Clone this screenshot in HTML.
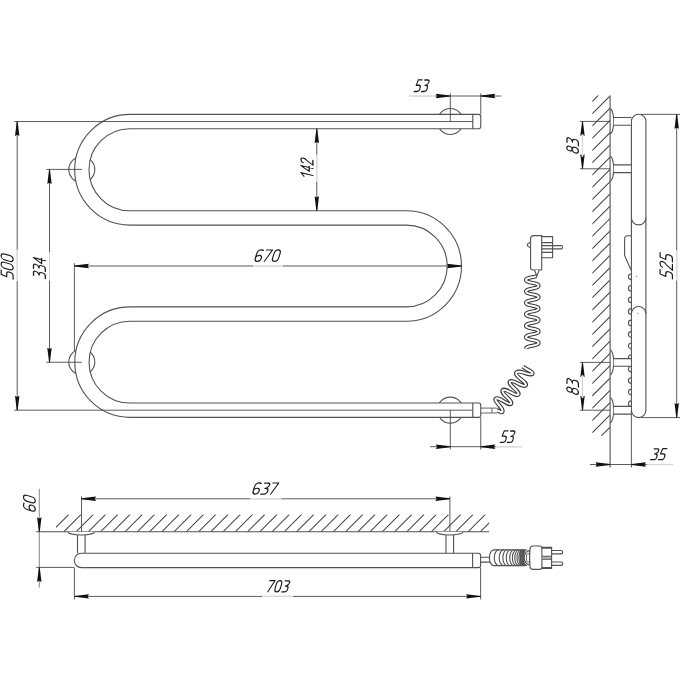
<!DOCTYPE html>
<html><head><meta charset="utf-8"><title>Towel warmer drawing</title>
<style>html,body{margin:0;padding:0;background:#fff;} body{width:680px;height:680px;overflow:hidden;font-family:"Liberation Sans",sans-serif;} svg{display:block;}</style>
</head><body>
<svg width="680" height="680" viewBox="0 0 680 680">
<rect width="680" height="680" fill="#fff"/>
<circle cx="81.8" cy="169.6" r="13.0" stroke="#525252" stroke-width="1.1" fill="none"/>
<circle cx="81.8" cy="362.0" r="13.0" stroke="#525252" stroke-width="1.1" fill="none"/>
<circle cx="450.3" cy="121.5" r="13.0" stroke="#525252" stroke-width="1.1" fill="none"/>
<circle cx="450.3" cy="410.1" r="13.0" stroke="#525252" stroke-width="1.1" fill="none"/>
<path d="M472.8,121.55 H130.0 A48.200,48.200 0 0 0 130.0,217.95 H406.3 A48.050,48.050 0 0 1 406.3,314.05 H130.0 A48.075,48.075 0 0 0 130.0,410.2 H472.8" stroke="#525252" stroke-width="15.4" fill="none"/>
<path d="M472.8,121.55 H130.0 A48.200,48.200 0 0 0 130.0,217.95 H406.3 A48.050,48.050 0 0 1 406.3,314.05 H130.0 A48.075,48.075 0 0 0 130.0,410.2 H472.8" stroke="#fff" stroke-width="13.200000000000001" fill="none"/>
<path d="M472.8,114.39999999999999 H478.6 Q480.75,114.39999999999999 480.75,116.49999999999999 V126.6 Q480.75,128.7 478.6,128.7 H472.8 Z" stroke="#525252" stroke-width="1.1" fill="#fff"/>
<path d="M472.8,403.05 H478.6 Q480.75,403.05 480.75,405.15000000000003 V415.24999999999994 Q480.75,417.34999999999997 478.6,417.34999999999997 H472.8 Z" stroke="#525252" stroke-width="1.1" fill="#fff"/>
<line x1="14.40" y1="121.55" x2="472.80" y2="121.55" stroke="#4a4a4a" stroke-width="0.9"/>
<line x1="14.40" y1="410.20" x2="472.80" y2="410.20" stroke="#4a4a4a" stroke-width="0.9"/>
<line x1="17.20" y1="121.55" x2="17.20" y2="410.20" stroke="#4a4a4a" stroke-width="0.9"/>
<path d="M17.65,121.55 L19.40,136.05 L17.20,134.85 L15.00,136.05 L16.75,121.55 Z" fill="#111" stroke="none"/>
<path d="M16.75,410.20 L15.00,395.70 L17.20,396.90 L19.40,395.70 L17.65,410.20 Z" fill="#111" stroke="none"/>
<line x1="17.20" y1="249.80" x2="17.20" y2="280.90" stroke="#fff" stroke-width="1.6"/>
<line x1="17.20" y1="249.80" x2="17.20" y2="280.90" stroke="#cfcfcf" stroke-width="0.9"/>
<g transform="matrix(0,-0.9739,1.0000,0,1.10,279.10)" fill="none" stroke="#1c1c1c" stroke-width="1.216" stroke-linecap="round" stroke-linejoin="round"><g transform="matrix(1,0,-0.3,1,3.5999999999999996,0)"><path transform="translate(0.00,0)" d="M5.8,0.1 H1.3 L0.5,5.6 H3.4 C5,5.6 6,6.6 6,8.2 V9.3 C6,11 4.9,12 3.3,12 H0"/><path transform="translate(8.60,0)" d="M3.2,0 C1.3,0 0,1.5 0,3.8 V8.2 C0,10.5 1.2,12 2.9,12 C4.8,12 6,10.5 6,8.2 V3.8 C6,1.5 4.9,0 3.2,0 Z"/><path transform="translate(17.20,0)" d="M3.2,0 C1.3,0 0,1.5 0,3.8 V8.2 C0,10.5 1.2,12 2.9,12 C4.8,12 6,10.5 6,8.2 V3.8 C6,1.5 4.9,0 3.2,0 Z"/></g></g>
<line x1="46.30" y1="169.40" x2="81.90" y2="169.40" stroke="#4a4a4a" stroke-width="0.9"/>
<line x1="46.30" y1="362.25" x2="81.90" y2="362.25" stroke="#4a4a4a" stroke-width="0.9"/>
<line x1="49.50" y1="169.40" x2="49.50" y2="362.25" stroke="#4a4a4a" stroke-width="0.9"/>
<path d="M49.95,169.40 L51.70,183.90 L49.50,182.70 L47.30,183.90 L49.05,169.40 Z" fill="#111" stroke="none"/>
<path d="M49.05,362.25 L47.30,347.75 L49.50,348.95 L51.70,347.75 L49.95,362.25 Z" fill="#111" stroke="none"/>
<line x1="49.50" y1="252.20" x2="49.50" y2="280.40" stroke="#fff" stroke-width="1.6"/>
<line x1="49.50" y1="252.20" x2="49.50" y2="280.40" stroke="#cfcfcf" stroke-width="0.9"/>
<g transform="matrix(0,-0.8284,1.0000,0,33.30,278.70)" fill="none" stroke="#1c1c1c" stroke-width="1.313" stroke-linecap="round" stroke-linejoin="round"><g transform="matrix(1,0,-0.3,1,3.5999999999999996,0)"><path transform="translate(0.00,0)" d="M0.4,0.2 H4 C5.3,0.2 6,1 6,2.2 C6,3.4 5.2,4.6 3.6,5.4 L2.4,5.8 H3.6 C5.1,5.8 6,6.8 6,8.3 V9.3 C6,11 4.9,12 3.3,12 H0"/><path transform="translate(8.60,0)" d="M0.4,0.2 H4 C5.3,0.2 6,1 6,2.2 C6,3.4 5.2,4.6 3.6,5.4 L2.4,5.8 H3.6 C5.1,5.8 6,6.8 6,8.3 V9.3 C6,11 4.9,12 3.3,12 H0"/><path transform="translate(17.20,0)" d="M4.6,12 V0 L0,8.3 H6.2"/></g></g>
<line x1="316.80" y1="128.70" x2="316.80" y2="210.80" stroke="#4a4a4a" stroke-width="0.9"/>
<path d="M317.25,128.70 L319.00,143.20 L316.80,142.00 L314.60,143.20 L316.35,128.70 Z" fill="#111" stroke="none"/>
<path d="M316.35,210.80 L314.60,196.30 L316.80,197.50 L319.00,196.30 L317.25,210.80 Z" fill="#111" stroke="none"/>
<line x1="316.80" y1="154.50" x2="316.80" y2="182.00" stroke="#fff" stroke-width="1.6"/>
<line x1="316.80" y1="154.50" x2="316.80" y2="182.00" stroke="#cfcfcf" stroke-width="0.9"/>
<g transform="matrix(0,-0.8060,1.0000,0,300.90,179.10)" fill="none" stroke="#1c1c1c" stroke-width="1.329" stroke-linecap="round" stroke-linejoin="round"><g transform="matrix(1,0,-0.3,1,3.5999999999999996,0)"><path transform="translate(0.00,0)" d="M0.8,3.0 L4.4,0 V12"/><path transform="translate(8.60,0)" d="M4.6,12 V0 L0,8.3 H6.2"/><path transform="translate(17.20,0)" d="M0.3,2.4 C0.6,0.9 1.7,0 3.2,0 C4.9,0 6,1 6,2.6 C6,3.9 5.3,4.8 4.2,5.8 L0,12 H6"/></g></g>
<line x1="74.40" y1="263.20" x2="74.40" y2="351.00" stroke="#4a4a4a" stroke-width="0.9"/>
<line x1="74.40" y1="266.00" x2="461.60" y2="266.00" stroke="#4a4a4a" stroke-width="0.9"/>
<path d="M74.40,265.55 L88.90,263.80 L87.70,266.00 L88.90,268.20 L74.40,266.45 Z" fill="#111" stroke="none"/>
<path d="M461.60,266.45 L447.10,268.20 L448.30,266.00 L447.10,263.80 L461.60,265.55 Z" fill="#111" stroke="none"/>
<line x1="253.00" y1="266.00" x2="283.00" y2="266.00" stroke="#fff" stroke-width="1.6"/>
<line x1="253.00" y1="266.00" x2="283.00" y2="266.00" stroke="#cfcfcf" stroke-width="0.9"/>
<g transform="translate(254.30,249.90) scale(1.0037,0.9583)" fill="none" stroke="#1c1c1c" stroke-width="1.223" stroke-linecap="round" stroke-linejoin="round"><g transform="matrix(1,0,-0.3,1,3.5999999999999996,0)"><path transform="translate(0.00,0)" d="M5.6,0.5 C5,0.2 4.2,0 3.4,0 C1.4,0 0,1.6 0,4.2 V8.4 C0,10.6 1.2,12 3,12 C4.8,12 6,10.7 6,8.8 C6,6.9 4.9,5.7 3.1,5.7 C1.5,5.7 0.3,6.6 0,8"/><path transform="translate(8.60,0)" d="M0,0.1 H6 L1.4,12"/><path transform="translate(17.20,0)" d="M3.2,0 C1.3,0 0,1.5 0,3.8 V8.2 C0,10.5 1.2,12 2.9,12 C4.8,12 6,10.5 6,8.2 V3.8 C6,1.5 4.9,0 3.2,0 Z"/></g></g>
<line x1="450.30" y1="93.30" x2="450.30" y2="121.55" stroke="#4a4a4a" stroke-width="0.9"/>
<line x1="480.75" y1="93.30" x2="480.75" y2="114.40" stroke="#4a4a4a" stroke-width="0.9"/>
<line x1="409.20" y1="96.00" x2="501.20" y2="96.00" stroke="#4a4a4a" stroke-width="0.9"/>
<path d="M450.30,96.45 L435.80,98.20 L437.00,96.00 L435.80,93.80 L450.30,95.55 Z" fill="#111" stroke="none"/>
<path d="M480.75,95.55 L495.25,93.80 L494.05,96.00 L495.25,98.20 L480.75,96.45 Z" fill="#111" stroke="none"/>
<line x1="409.20" y1="96.00" x2="435.00" y2="96.00" stroke="#fff" stroke-width="1.6"/>
<line x1="409.20" y1="96.00" x2="435.00" y2="96.00" stroke="#cfcfcf" stroke-width="0.9"/>
<g transform="translate(414.20,79.80) scale(0.8407,0.9750)" fill="none" stroke="#1c1c1c" stroke-width="1.322" stroke-linecap="round" stroke-linejoin="round"><g transform="matrix(1,0,-0.3,1,3.5999999999999996,0)"><path transform="translate(0.00,0)" d="M5.8,0.1 H1.3 L0.5,5.6 H3.4 C5,5.6 6,6.6 6,8.2 V9.3 C6,11 4.9,12 3.3,12 H0"/><path transform="translate(8.60,0)" d="M0.4,0.2 H4 C5.3,0.2 6,1 6,2.2 C6,3.4 5.2,4.6 3.6,5.4 L2.4,5.8 H3.6 C5.1,5.8 6,6.8 6,8.3 V9.3 C6,11 4.9,12 3.3,12 H0"/></g></g>
<line x1="450.30" y1="410.20" x2="450.30" y2="449.50" stroke="#4a4a4a" stroke-width="0.9"/>
<line x1="480.75" y1="417.35" x2="480.75" y2="449.50" stroke="#4a4a4a" stroke-width="0.9"/>
<line x1="430.00" y1="446.70" x2="521.60" y2="446.70" stroke="#4a4a4a" stroke-width="0.9"/>
<path d="M450.30,447.15 L435.80,448.90 L437.00,446.70 L435.80,444.50 L450.30,446.25 Z" fill="#111" stroke="none"/>
<path d="M480.75,446.25 L495.25,444.50 L494.05,446.70 L495.25,448.90 L480.75,447.15 Z" fill="#111" stroke="none"/>
<line x1="496.00" y1="446.70" x2="521.60" y2="446.70" stroke="#fff" stroke-width="1.6"/>
<line x1="496.00" y1="446.70" x2="521.60" y2="446.70" stroke="#cfcfcf" stroke-width="0.9"/>
<g transform="translate(500.20,430.80) scale(0.8297,0.9667)" fill="none" stroke="#1c1c1c" stroke-width="1.336" stroke-linecap="round" stroke-linejoin="round"><g transform="matrix(1,0,-0.3,1,3.5999999999999996,0)"><path transform="translate(0.00,0)" d="M5.8,0.1 H1.3 L0.5,5.6 H3.4 C5,5.6 6,6.6 6,8.2 V9.3 C6,11 4.9,12 3.3,12 H0"/><path transform="translate(8.60,0)" d="M0.4,0.2 H4 C5.3,0.2 6,1 6,2.2 C6,3.4 5.2,4.6 3.6,5.4 L2.4,5.8 H3.6 C5.1,5.8 6,6.8 6,8.3 V9.3 C6,11 4.9,12 3.3,12 H0"/></g></g>
<path d="M480.75,408.1 H497 M480.75,413 H497 M491.9,408.1 V413" stroke="#525252" stroke-width="0.9" fill="none"/>
<path d="M497,410.4 C498.83,410.43 502.83,414.47 502.50,410.50 C502.17,406.53 493.13,400.77 496.00,398.50 C498.87,396.23 508.87,406.43 511.10,403.70 C513.33,400.97 500.30,393.37 502.70,390.30 C505.10,387.23 515.90,397.37 518.30,394.50 C520.70,391.63 507.40,384.77 509.90,381.70 C512.40,378.63 523.70,388.30 525.80,385.30 C527.90,382.30 514.10,376.43 516.20,372.70 C518.30,368.97 529.87,376.10 532.10,374.10 C534.33,372.10 525.97,369.17 522.90,366.70" stroke="#3a3a3a" stroke-width="4.2" fill="none" stroke-linejoin="round" stroke-linecap="butt"/>
<path d="M497,410.4 C498.83,410.43 502.83,414.47 502.50,410.50 C502.17,406.53 493.13,400.77 496.00,398.50 C498.87,396.23 508.87,406.43 511.10,403.70 C513.33,400.97 500.30,393.37 502.70,390.30 C505.10,387.23 515.90,397.37 518.30,394.50 C520.70,391.63 507.40,384.77 509.90,381.70 C512.40,378.63 523.70,388.30 525.80,385.30 C527.90,382.30 514.10,376.43 516.20,372.70 C518.30,368.97 529.87,376.10 532.10,374.10 C534.33,372.10 525.97,369.17 522.90,366.70" stroke="#fff" stroke-width="2.0" fill="none" stroke-linejoin="round"/>
<path d="M536.54,276.10 L536.05,276.27 L535.53,276.43 L534.97,276.58 L534.39,276.72 L533.78,276.85 L533.16,276.97 L532.54,277.10 L531.91,277.22 L531.28,277.34 L530.67,277.47 L530.07,277.60 L529.49,277.74 L528.94,277.90 L528.42,278.06 L527.95,278.23 L527.51,278.42 L527.13,278.61 L526.80,278.82 L526.52,279.04 L526.30,279.27 L526.14,279.50 L526.04,279.74 L526.00,279.98 L526.03,280.22 L526.12,280.46 L526.27,280.70 L526.48,280.93 L526.75,281.15 L527.07,281.36 L527.45,281.55 L527.88,281.74 L528.35,281.92 L528.86,282.08 L529.40,282.23 L529.98,282.38 L530.57,282.51 L531.19,282.64 L531.81,282.76 L532.44,282.88 L533.07,283.01 L533.69,283.13 L534.30,283.26 L534.88,283.40 L535.44,283.55 L535.97,283.71 L536.47,283.87 L536.92,284.05 L537.32,284.25 L537.68,284.45 L537.98,284.67 L538.22,284.89 L538.41,285.12 L538.53,285.36 L538.59,285.60 L538.59,285.84 L538.53,286.08 L538.40,286.32 L538.21,286.55 L537.97,286.77 L537.66,286.99 L537.31,287.19 L536.90,287.38 L536.45,287.56 L535.95,287.73 L535.42,287.89 L534.86,288.03 L534.27,288.17 L533.66,288.30 L533.04,288.43 L532.41,288.55 L531.78,288.67 L531.16,288.80 L530.55,288.93 L529.95,289.06 L529.38,289.20 L528.83,289.36 L528.33,289.52 L527.86,289.70 L527.43,289.88 L527.06,290.08 L526.74,290.29 L526.47,290.51 L526.26,290.74 L526.11,290.98 L526.02,291.22 L526.00,291.46 L526.04,291.70 L526.14,291.94 L526.30,292.17 L526.53,292.40 L526.81,292.62 L527.14,292.83 L527.53,293.02 L527.97,293.21 L528.45,293.38 L528.96,293.54 L529.51,293.69 L530.09,293.83 L530.69,293.97 L531.31,294.09 L531.93,294.22 L532.56,294.34 L533.19,294.46 L533.81,294.59 L534.41,294.72 L535.00,294.86 L535.55,295.01 L536.07,295.17 L536.56,295.34 L537.00,295.52 L537.40,295.72 L537.74,295.92 L538.03,296.14 L538.26,296.36 L538.44,296.60 L538.55,296.84 L538.60,297.08 L538.58,297.32 L538.51,297.56 L538.37,297.80 L538.17,298.03 L537.91,298.25 L537.60,298.46 L537.23,298.66 L536.81,298.85 L536.35,299.03 L535.85,299.19 L535.31,299.35 L534.74,299.49 L534.15,299.63 L533.54,299.76 L532.92,299.88 L532.29,300.00 L531.66,300.13 L531.04,300.25 L530.43,300.38 L529.83,300.52 L529.27,300.66 L528.73,300.82 L528.23,300.98 L527.77,301.16 L527.36,301.35 L526.99,301.55 L526.68,301.77 L526.42,301.99 L526.23,302.22 L526.09,302.45 L526.01,302.70 L526.00,302.94 L526.05,303.18 L526.17,303.42 L526.34,303.65 L526.58,303.87 L526.87,304.09 L527.22,304.30 L527.61,304.49 L528.06,304.67 L528.55,304.84 L529.07,305.00 L529.63,305.15 L530.21,305.29 L530.81,305.42 L531.43,305.55 L532.06,305.67 L532.69,305.79 L533.32,305.92 L533.93,306.04 L534.53,306.18 L535.11,306.32 L535.66,306.47 L536.17,306.63 L536.65,306.80 L537.08,306.99 L537.47,307.19 L537.80,307.39 L538.08,307.61 L538.30,307.84 L538.46,308.07 L538.56,308.31 L538.60,308.56 L538.57,308.80 L538.48,309.04 L538.33,309.27 L538.12,309.50 L537.85,309.72 L537.53,309.93 L537.15,310.13 L536.72,310.32 L536.25,310.49 L535.75,310.65 L535.20,310.81 L534.63,310.95 L534.03,311.08 L533.42,311.21 L532.79,311.34 L532.16,311.46 L531.53,311.58 L530.91,311.71 L530.31,311.84 L529.72,311.98 L529.16,312.12 L528.63,312.28 L528.14,312.45 L527.68,312.63 L527.28,312.82 L526.92,313.03 L526.62,313.24 L526.38,313.46 L526.19,313.69 L526.07,313.93 L526.01,314.17 L526.01,314.41 L526.07,314.66 L526.20,314.89 L526.39,315.12 L526.63,315.35 L526.94,315.56 L527.29,315.77 L527.70,315.96 L528.15,316.14 L528.65,316.31 L529.18,316.46 L529.74,316.61 L530.33,316.75 L530.93,316.88 L531.56,317.00 L532.18,317.13 L532.81,317.25 L533.44,317.37 L534.05,317.50 L534.65,317.63 L535.22,317.78 L535.76,317.93 L536.27,318.09 L536.74,318.27 L537.16,318.46 L537.54,318.66 L537.86,318.87 L538.13,319.09 L538.34,319.32 L538.49,319.55 L538.58,319.79 L538.60,320.03 L538.56,320.27 L538.46,320.51 L538.30,320.75 L538.07,320.97 L537.79,321.19 L537.46,321.40 L537.07,321.60 L536.64,321.78 L536.16,321.95 L535.64,322.12 L535.09,322.27 L534.51,322.41 L533.91,322.54 L533.29,322.67 L532.67,322.79 L532.04,322.91 L531.41,323.04 L530.79,323.16 L530.19,323.29 L529.61,323.43 L529.05,323.58 L528.53,323.74 L528.04,323.91 L527.60,324.10 L527.21,324.29 L526.86,324.50 L526.57,324.71 L526.34,324.94 L526.16,325.17 L526.05,325.41 L526.00,325.65 L526.02,325.89 L526.09,326.13 L526.23,326.37 L526.43,326.60 L526.69,326.82 L527.00,327.03 L527.37,327.23 L527.79,327.42 L528.25,327.60 L528.75,327.77 L529.29,327.92 L529.85,328.07 L530.45,328.20 L531.06,328.33 L531.68,328.46 L532.31,328.58 L532.94,328.70 L533.56,328.83 L534.17,328.96 L534.76,329.09 L535.33,329.24 L535.87,329.39 L536.37,329.56 L536.83,329.74 L537.24,329.93 L537.61,330.13 L537.92,330.34 L538.18,330.56 L538.37,330.79 L538.51,331.03 L538.59,331.27 L538.60,331.51 L538.55,331.75 L538.43,331.99 L538.26,332.22 L538.02,332.45 L537.73,332.66 L537.38,332.87 L536.99,333.06 L536.54,333.25 L536.06,333.42 L535.53,333.58 L534.98,333.72 L534.39,333.86 L533.79,334.00 L533.17,334.12 L532.54,334.25 L531.91,334.37 L531.29,334.49 L530.67,334.62 L530.07,334.75 L529.49,334.89 L528.95,335.04 L528.43,335.21 L527.95,335.38 L527.52,335.56 L527.13,335.76 L526.80,335.97 L526.52,336.19 L526.30,336.41 L526.14,336.65 L526.04,336.89 L526.00,337.13 L526.03,337.37 L526.11,337.61 L526.27,337.85 L526.48,338.07 L526.75,338.29 L527.07,338.50 L527.45,338.70 L527.87,338.89 L528.34,339.07 L528.85,339.23 L529.40,339.38 L529.97,339.52 L530.57,339.66 L531.18,339.79 L531.80,339.91 L532.43,340.03 L533.06,340.16 L533.68,340.28 L534.29,340.41 L534.88,340.55 L535.44,340.70 L535.97,340.85 L536.46,341.02 L536.91,341.20 L537.32,341.40 L537.67,341.60 L537.98,341.81 L538.22,342.04 L538.41,342.27 L538.53,342.51 L538.59,342.75 L538.59,342.99 L538.53,343.23 L538.40,343.47 L538.22,343.70 L537.97,343.92 L537.67,344.14 L537.31,344.34 L536.90,344.53 L536.45,344.71 L535.96,344.88 L535.43,345.04 L534.86,345.18 L534.28,345.32 L533.67,345.45 L533.05,345.58 L532.42,345.70 L531.79,345.82 L531.17,345.95 L530.55,346.07 L529.96,346.21 L529.38,346.35 L528.84,346.50 L528.33,346.67 L527.86,346.84 L527.44,347.03 L527.06,347.23 L526.74,347.44 L526.47,347.66 L526.26,347.89 L526.11,348.13 L526.02,348.36 L526.00,348.61 " stroke="#3a3a3a" stroke-width="4.0" fill="none" stroke-linejoin="round"/>
<path d="M536.54,276.10 L536.05,276.27 L535.53,276.43 L534.97,276.58 L534.39,276.72 L533.78,276.85 L533.16,276.97 L532.54,277.10 L531.91,277.22 L531.28,277.34 L530.67,277.47 L530.07,277.60 L529.49,277.74 L528.94,277.90 L528.42,278.06 L527.95,278.23 L527.51,278.42 L527.13,278.61 L526.80,278.82 L526.52,279.04 L526.30,279.27 L526.14,279.50 L526.04,279.74 L526.00,279.98 L526.03,280.22 L526.12,280.46 L526.27,280.70 L526.48,280.93 L526.75,281.15 L527.07,281.36 L527.45,281.55 L527.88,281.74 L528.35,281.92 L528.86,282.08 L529.40,282.23 L529.98,282.38 L530.57,282.51 L531.19,282.64 L531.81,282.76 L532.44,282.88 L533.07,283.01 L533.69,283.13 L534.30,283.26 L534.88,283.40 L535.44,283.55 L535.97,283.71 L536.47,283.87 L536.92,284.05 L537.32,284.25 L537.68,284.45 L537.98,284.67 L538.22,284.89 L538.41,285.12 L538.53,285.36 L538.59,285.60 L538.59,285.84 L538.53,286.08 L538.40,286.32 L538.21,286.55 L537.97,286.77 L537.66,286.99 L537.31,287.19 L536.90,287.38 L536.45,287.56 L535.95,287.73 L535.42,287.89 L534.86,288.03 L534.27,288.17 L533.66,288.30 L533.04,288.43 L532.41,288.55 L531.78,288.67 L531.16,288.80 L530.55,288.93 L529.95,289.06 L529.38,289.20 L528.83,289.36 L528.33,289.52 L527.86,289.70 L527.43,289.88 L527.06,290.08 L526.74,290.29 L526.47,290.51 L526.26,290.74 L526.11,290.98 L526.02,291.22 L526.00,291.46 L526.04,291.70 L526.14,291.94 L526.30,292.17 L526.53,292.40 L526.81,292.62 L527.14,292.83 L527.53,293.02 L527.97,293.21 L528.45,293.38 L528.96,293.54 L529.51,293.69 L530.09,293.83 L530.69,293.97 L531.31,294.09 L531.93,294.22 L532.56,294.34 L533.19,294.46 L533.81,294.59 L534.41,294.72 L535.00,294.86 L535.55,295.01 L536.07,295.17 L536.56,295.34 L537.00,295.52 L537.40,295.72 L537.74,295.92 L538.03,296.14 L538.26,296.36 L538.44,296.60 L538.55,296.84 L538.60,297.08 L538.58,297.32 L538.51,297.56 L538.37,297.80 L538.17,298.03 L537.91,298.25 L537.60,298.46 L537.23,298.66 L536.81,298.85 L536.35,299.03 L535.85,299.19 L535.31,299.35 L534.74,299.49 L534.15,299.63 L533.54,299.76 L532.92,299.88 L532.29,300.00 L531.66,300.13 L531.04,300.25 L530.43,300.38 L529.83,300.52 L529.27,300.66 L528.73,300.82 L528.23,300.98 L527.77,301.16 L527.36,301.35 L526.99,301.55 L526.68,301.77 L526.42,301.99 L526.23,302.22 L526.09,302.45 L526.01,302.70 L526.00,302.94 L526.05,303.18 L526.17,303.42 L526.34,303.65 L526.58,303.87 L526.87,304.09 L527.22,304.30 L527.61,304.49 L528.06,304.67 L528.55,304.84 L529.07,305.00 L529.63,305.15 L530.21,305.29 L530.81,305.42 L531.43,305.55 L532.06,305.67 L532.69,305.79 L533.32,305.92 L533.93,306.04 L534.53,306.18 L535.11,306.32 L535.66,306.47 L536.17,306.63 L536.65,306.80 L537.08,306.99 L537.47,307.19 L537.80,307.39 L538.08,307.61 L538.30,307.84 L538.46,308.07 L538.56,308.31 L538.60,308.56 L538.57,308.80 L538.48,309.04 L538.33,309.27 L538.12,309.50 L537.85,309.72 L537.53,309.93 L537.15,310.13 L536.72,310.32 L536.25,310.49 L535.75,310.65 L535.20,310.81 L534.63,310.95 L534.03,311.08 L533.42,311.21 L532.79,311.34 L532.16,311.46 L531.53,311.58 L530.91,311.71 L530.31,311.84 L529.72,311.98 L529.16,312.12 L528.63,312.28 L528.14,312.45 L527.68,312.63 L527.28,312.82 L526.92,313.03 L526.62,313.24 L526.38,313.46 L526.19,313.69 L526.07,313.93 L526.01,314.17 L526.01,314.41 L526.07,314.66 L526.20,314.89 L526.39,315.12 L526.63,315.35 L526.94,315.56 L527.29,315.77 L527.70,315.96 L528.15,316.14 L528.65,316.31 L529.18,316.46 L529.74,316.61 L530.33,316.75 L530.93,316.88 L531.56,317.00 L532.18,317.13 L532.81,317.25 L533.44,317.37 L534.05,317.50 L534.65,317.63 L535.22,317.78 L535.76,317.93 L536.27,318.09 L536.74,318.27 L537.16,318.46 L537.54,318.66 L537.86,318.87 L538.13,319.09 L538.34,319.32 L538.49,319.55 L538.58,319.79 L538.60,320.03 L538.56,320.27 L538.46,320.51 L538.30,320.75 L538.07,320.97 L537.79,321.19 L537.46,321.40 L537.07,321.60 L536.64,321.78 L536.16,321.95 L535.64,322.12 L535.09,322.27 L534.51,322.41 L533.91,322.54 L533.29,322.67 L532.67,322.79 L532.04,322.91 L531.41,323.04 L530.79,323.16 L530.19,323.29 L529.61,323.43 L529.05,323.58 L528.53,323.74 L528.04,323.91 L527.60,324.10 L527.21,324.29 L526.86,324.50 L526.57,324.71 L526.34,324.94 L526.16,325.17 L526.05,325.41 L526.00,325.65 L526.02,325.89 L526.09,326.13 L526.23,326.37 L526.43,326.60 L526.69,326.82 L527.00,327.03 L527.37,327.23 L527.79,327.42 L528.25,327.60 L528.75,327.77 L529.29,327.92 L529.85,328.07 L530.45,328.20 L531.06,328.33 L531.68,328.46 L532.31,328.58 L532.94,328.70 L533.56,328.83 L534.17,328.96 L534.76,329.09 L535.33,329.24 L535.87,329.39 L536.37,329.56 L536.83,329.74 L537.24,329.93 L537.61,330.13 L537.92,330.34 L538.18,330.56 L538.37,330.79 L538.51,331.03 L538.59,331.27 L538.60,331.51 L538.55,331.75 L538.43,331.99 L538.26,332.22 L538.02,332.45 L537.73,332.66 L537.38,332.87 L536.99,333.06 L536.54,333.25 L536.06,333.42 L535.53,333.58 L534.98,333.72 L534.39,333.86 L533.79,334.00 L533.17,334.12 L532.54,334.25 L531.91,334.37 L531.29,334.49 L530.67,334.62 L530.07,334.75 L529.49,334.89 L528.95,335.04 L528.43,335.21 L527.95,335.38 L527.52,335.56 L527.13,335.76 L526.80,335.97 L526.52,336.19 L526.30,336.41 L526.14,336.65 L526.04,336.89 L526.00,337.13 L526.03,337.37 L526.11,337.61 L526.27,337.85 L526.48,338.07 L526.75,338.29 L527.07,338.50 L527.45,338.70 L527.87,338.89 L528.34,339.07 L528.85,339.23 L529.40,339.38 L529.97,339.52 L530.57,339.66 L531.18,339.79 L531.80,339.91 L532.43,340.03 L533.06,340.16 L533.68,340.28 L534.29,340.41 L534.88,340.55 L535.44,340.70 L535.97,340.85 L536.46,341.02 L536.91,341.20 L537.32,341.40 L537.67,341.60 L537.98,341.81 L538.22,342.04 L538.41,342.27 L538.53,342.51 L538.59,342.75 L538.59,342.99 L538.53,343.23 L538.40,343.47 L538.22,343.70 L537.97,343.92 L537.67,344.14 L537.31,344.34 L536.90,344.53 L536.45,344.71 L535.96,344.88 L535.43,345.04 L534.86,345.18 L534.28,345.32 L533.67,345.45 L533.05,345.58 L532.42,345.70 L531.79,345.82 L531.17,345.95 L530.55,346.07 L529.96,346.21 L529.38,346.35 L528.84,346.50 L528.33,346.67 L527.86,346.84 L527.44,347.03 L527.06,347.23 L526.74,347.44 L526.47,347.66 L526.26,347.89 L526.11,348.13 L526.02,348.36 L526.00,348.61 " stroke="#fff" stroke-width="1.9" fill="none" stroke-linejoin="round"/>
<path d="M541.7,235.6 H533.6 Q530.6,235.6 530.6,238.6 V267.8 Q530.6,270 532.8,270 H541.7 Z" stroke="#525252" stroke-width="1.1" fill="#fff"/>
<path d="M530.6,241.9 Q527.2,243.5 527.2,245 Q527.6,247 530.6,247.5" stroke="#525252" stroke-width="1.1" fill="none"/>
<path d="M541.7,236.6 H552.6 V257.8 H541.7 M541.7,242.6 H552.6 M541.7,252.4 H552.6 M541.7,245.6 H561.5 Q562.4,245.6 562.4,247.25 Q562.4,248.9 561.5,248.9 H541.7" stroke="#525252" stroke-width="1.1" fill="none"/>
<path d="M534.6,270 L536.8,276.2 L539.2,270" stroke="#525252" stroke-width="1.1" fill="#fff"/>
<clipPath id="hs"><rect x="592.3" y="95.5" width="17.8" height="340.2"/></clipPath>
<path d="M610.1,71.26 L592.1,89.26 M610.1,83.53 L592.1,101.53 M610.1,95.80 L592.1,113.80 M610.1,108.07 L592.1,126.07 M610.1,120.34 L592.1,138.34 M610.1,132.61 L592.1,150.61 M610.1,144.88 L592.1,162.88 M610.1,157.15 L592.1,175.15 M610.1,169.42 L592.1,187.42 M610.1,181.69 L592.1,199.69 M610.1,193.96 L592.1,211.96 M610.1,206.23 L592.1,224.23 M610.1,218.50 L592.1,236.50 M610.1,230.77 L592.1,248.77 M610.1,243.04 L592.1,261.04 M610.1,255.31 L592.1,273.31 M610.1,267.58 L592.1,285.58 M610.1,279.85 L592.1,297.85 M610.1,292.12 L592.1,310.12 M610.1,304.39 L592.1,322.39 M610.1,316.66 L592.1,334.66 M610.1,328.93 L592.1,346.93 M610.1,341.20 L592.1,359.20 M610.1,353.47 L592.1,371.47 M610.1,365.74 L592.1,383.74 M610.1,378.01 L592.1,396.01 M610.1,390.28 L592.1,408.28 M610.1,402.55 L592.1,420.55 M610.1,414.82 L592.1,432.82 M610.1,427.09 L592.1,445.09 M610.1,439.36 L592.1,457.36 " stroke="#444" stroke-width="1.05" clip-path="url(#hs)"/>
<line x1="610.10" y1="95.50" x2="610.10" y2="467.40" stroke="#525252" stroke-width="1.1"/>
<path d="M631.4,410.35 V121.55 A7.25,7.25 0 0 1 645.9,121.55 V410.35 A7.25,7.25 0 0 1 631.4,410.35" stroke="#525252" stroke-width="1.1" fill="#fff"/>
<path d="M631.4,217.65 A7.25,7.25 0 0 0 645.9,217.65 M631.4,313.75 A7.25,7.25 0 0 1 645.9,313.75" stroke="#525252" stroke-width="1.1" fill="none"/>
<path d="M631.4,235.7 H627.8 Q624.6,235.7 624.6,238.9 V255.5 L630.2,268.2 Q630.8,269.5 631.4,269.8" stroke="#525252" stroke-width="1.1" fill="none"/>
<circle cx="636.6" cy="276.6" r="0.55" fill="#666"/><circle cx="637.6" cy="313.2" r="0.55" fill="#666"/>
<path d="M631.4,274.00 A3.0,2.8 0 0 0 631.4,279.60 M631.4,285.53 A3.0,2.8 0 0 0 631.4,291.13 M631.4,297.06 A3.0,2.8 0 0 0 631.4,302.66 M631.4,308.59 A3.0,2.8 0 0 0 631.4,314.19 M631.4,320.12 A3.0,2.8 0 0 0 631.4,325.72 M631.4,331.65 A3.0,2.8 0 0 0 631.4,337.25 M631.4,343.18 A3.0,2.8 0 0 0 631.4,348.78 M631.4,354.71 A3.0,2.8 0 0 0 631.4,360.31 M631.4,366.24 A3.0,2.8 0 0 0 631.4,371.84 M631.4,377.77 A3.0,2.8 0 0 0 631.4,383.37 M631.4,389.30 A3.0,2.8 0 0 0 631.4,394.90 M631.4,400.83 A3.0,2.8 0 0 0 631.4,406.43 " stroke="#525252" stroke-width="1.1" fill="none"/>
<path d="M610.1,108.89999999999999 A3.6,12.4 0 0 1 610.1,133.7" stroke="#525252" stroke-width="1.1" fill="none"/>
<rect x="613.8" y="117.50" width="17.0" height="7.7" fill="#fff"/>
<path d="M613.6,117.5 H631.4 M613.6,125.2 H631.4" stroke="#525252" stroke-width="1.1" fill="none"/>
<path d="M610.1,156.29999999999998 A3.6,12.4 0 0 1 610.1,181.1" stroke="#525252" stroke-width="1.1" fill="none"/>
<rect x="613.8" y="164.90" width="17.0" height="7.7" fill="#fff"/>
<path d="M613.6,164.89999999999998 H631.4 M613.6,172.6 H631.4" stroke="#525252" stroke-width="1.1" fill="none"/>
<path d="M610.1,350.0 A3.6,12.4 0 0 1 610.1,374.79999999999995" stroke="#525252" stroke-width="1.1" fill="none"/>
<rect x="613.8" y="358.60" width="17.0" height="7.7" fill="#fff"/>
<path d="M613.6,358.59999999999997 H631.4 M613.6,366.29999999999995 H631.4" stroke="#525252" stroke-width="1.1" fill="none"/>
<path d="M610.1,397.8 A3.6,12.4 0 0 1 610.1,422.59999999999997" stroke="#525252" stroke-width="1.1" fill="none"/>
<rect x="613.8" y="406.40" width="17.0" height="7.7" fill="#fff"/>
<path d="M613.6,406.4 H631.4 M613.6,414.09999999999997 H631.4" stroke="#525252" stroke-width="1.1" fill="none"/>
<line x1="579.90" y1="121.40" x2="610.10" y2="121.40" stroke="#4a4a4a" stroke-width="0.9"/>
<line x1="579.90" y1="168.80" x2="610.10" y2="168.80" stroke="#4a4a4a" stroke-width="0.9"/>
<line x1="582.50" y1="121.40" x2="582.50" y2="168.80" stroke="#4a4a4a" stroke-width="0.9"/>
<path d="M582.95,121.40 L584.70,135.90 L582.50,134.70 L580.30,135.90 L582.05,121.40 Z" fill="#111" stroke="none"/>
<path d="M582.05,168.80 L580.30,154.30 L582.50,155.50 L584.70,154.30 L582.95,168.80 Z" fill="#111" stroke="none"/>
<line x1="582.50" y1="134.10" x2="582.50" y2="156.80" stroke="#fff" stroke-width="1.6"/>
<line x1="582.50" y1="134.10" x2="582.50" y2="156.80" stroke="#cfcfcf" stroke-width="0.9"/>
<g transform="matrix(0,-0.9066,0.9667,0,566.80,153.70)" fill="none" stroke="#1c1c1c" stroke-width="1.281" stroke-linecap="round" stroke-linejoin="round"><g transform="matrix(1,0,-0.3,1,3.5999999999999996,0)"><path transform="translate(0.00,0)" d="M3,5.5 C1.5,5.5 0.5,4.4 0.5,2.8 C0.5,1.1 1.5,0 3,0 C4.5,0 5.5,1.1 5.5,2.8 C5.5,4.4 4.5,5.5 3,5.5 C1.2,5.5 0,6.8 0,8.7 C0,10.7 1.2,12 3,12 C4.8,12 6,10.7 6,8.7 C6,6.8 4.8,5.5 3,5.5 Z"/><path transform="translate(8.60,0)" d="M0.4,0.2 H4 C5.3,0.2 6,1 6,2.2 C6,3.4 5.2,4.6 3.6,5.4 L2.4,5.8 H3.6 C5.1,5.8 6,6.8 6,8.3 V9.3 C6,11 4.9,12 3.3,12 H0"/></g></g>
<line x1="579.90" y1="362.40" x2="610.10" y2="362.40" stroke="#4a4a4a" stroke-width="0.9"/>
<line x1="579.90" y1="410.20" x2="610.10" y2="410.20" stroke="#4a4a4a" stroke-width="0.9"/>
<line x1="582.50" y1="362.40" x2="582.50" y2="410.20" stroke="#4a4a4a" stroke-width="0.9"/>
<path d="M582.95,362.40 L584.70,376.90 L582.50,375.70 L580.30,376.90 L582.05,362.40 Z" fill="#111" stroke="none"/>
<path d="M582.05,410.20 L580.30,395.70 L582.50,396.90 L584.70,395.70 L582.95,410.20 Z" fill="#111" stroke="none"/>
<line x1="582.50" y1="375.00" x2="582.50" y2="398.10" stroke="#fff" stroke-width="1.6"/>
<line x1="582.50" y1="375.00" x2="582.50" y2="398.10" stroke="#cfcfcf" stroke-width="0.9"/>
<g transform="matrix(0,-0.9286,0.9667,0,566.80,395.00)" fill="none" stroke="#1c1c1c" stroke-width="1.266" stroke-linecap="round" stroke-linejoin="round"><g transform="matrix(1,0,-0.3,1,3.5999999999999996,0)"><path transform="translate(0.00,0)" d="M3,5.5 C1.5,5.5 0.5,4.4 0.5,2.8 C0.5,1.1 1.5,0 3,0 C4.5,0 5.5,1.1 5.5,2.8 C5.5,4.4 4.5,5.5 3,5.5 C1.2,5.5 0,6.8 0,8.7 C0,10.7 1.2,12 3,12 C4.8,12 6,10.7 6,8.7 C6,6.8 4.8,5.5 3,5.5 Z"/><path transform="translate(8.60,0)" d="M0.4,0.2 H4 C5.3,0.2 6,1 6,2.2 C6,3.4 5.2,4.6 3.6,5.4 L2.4,5.8 H3.6 C5.1,5.8 6,6.8 6,8.3 V9.3 C6,11 4.9,12 3.3,12 H0"/></g></g>
<line x1="641.00" y1="114.35" x2="680.00" y2="114.35" stroke="#4a4a4a" stroke-width="0.9"/>
<line x1="641.00" y1="417.60" x2="680.00" y2="417.60" stroke="#4a4a4a" stroke-width="0.9"/>
<line x1="676.70" y1="114.35" x2="676.70" y2="417.60" stroke="#4a4a4a" stroke-width="0.9"/>
<path d="M677.15,114.35 L678.90,128.85 L676.70,127.65 L674.50,128.85 L676.25,114.35 Z" fill="#111" stroke="none"/>
<path d="M676.25,417.60 L674.50,403.10 L676.70,404.30 L678.90,403.10 L677.15,417.60 Z" fill="#111" stroke="none"/>
<line x1="676.70" y1="250.30" x2="676.70" y2="280.40" stroke="#fff" stroke-width="1.6"/>
<line x1="676.70" y1="250.30" x2="676.70" y2="280.40" stroke="#cfcfcf" stroke-width="0.9"/>
<g transform="matrix(0,-0.9851,1.0333,0,660.00,278.80)" fill="none" stroke="#1c1c1c" stroke-width="1.189" stroke-linecap="round" stroke-linejoin="round"><g transform="matrix(1,0,-0.3,1,3.5999999999999996,0)"><path transform="translate(0.00,0)" d="M5.8,0.1 H1.3 L0.5,5.6 H3.4 C5,5.6 6,6.6 6,8.2 V9.3 C6,11 4.9,12 3.3,12 H0"/><path transform="translate(8.60,0)" d="M0.3,2.4 C0.6,0.9 1.7,0 3.2,0 C4.9,0 6,1 6,2.6 C6,3.9 5.3,4.8 4.2,5.8 L0,12 H6"/><path transform="translate(17.20,0)" d="M5.8,0.1 H1.3 L0.5,5.6 H3.4 C5,5.6 6,6.6 6,8.2 V9.3 C6,11 4.9,12 3.3,12 H0"/></g></g>
<line x1="631.40" y1="410.30" x2="631.40" y2="467.40" stroke="#4a4a4a" stroke-width="0.9"/>
<line x1="589.90" y1="464.50" x2="672.40" y2="464.50" stroke="#4a4a4a" stroke-width="0.9"/>
<path d="M610.10,464.95 L595.60,466.70 L596.80,464.50 L595.60,462.30 L610.10,464.05 Z" fill="#111" stroke="none"/>
<path d="M631.40,464.05 L645.90,462.30 L644.70,464.50 L645.90,466.70 L631.40,464.95 Z" fill="#111" stroke="none"/>
<line x1="647.00" y1="464.50" x2="672.40" y2="464.50" stroke="#fff" stroke-width="1.6"/>
<line x1="647.00" y1="464.50" x2="672.40" y2="464.50" stroke="#cfcfcf" stroke-width="0.9"/>
<g transform="translate(650.60,448.60) scale(0.9011,0.9250)" fill="none" stroke="#1c1c1c" stroke-width="1.314" stroke-linecap="round" stroke-linejoin="round"><g transform="matrix(1,0,-0.3,1,3.5999999999999996,0)"><path transform="translate(0.00,0)" d="M0.4,0.2 H4 C5.3,0.2 6,1 6,2.2 C6,3.4 5.2,4.6 3.6,5.4 L2.4,5.8 H3.6 C5.1,5.8 6,6.8 6,8.3 V9.3 C6,11 4.9,12 3.3,12 H0"/><path transform="translate(8.60,0)" d="M5.8,0.1 H1.3 L0.5,5.6 H3.4 C5,5.6 6,6.6 6,8.2 V9.3 C6,11 4.9,12 3.3,12 H0"/></g></g>
<clipPath id="hp"><rect x="56" y="514.4" width="433.1" height="17.4"/></clipPath>
<path d="M51.50,531.8 L68.90,514.4 M63.75,531.8 L81.15,514.4 M76.00,531.8 L93.40,514.4 M88.25,531.8 L105.65,514.4 M100.50,531.8 L117.90,514.4 M112.75,531.8 L130.15,514.4 M125.00,531.8 L142.40,514.4 M137.25,531.8 L154.65,514.4 M149.50,531.8 L166.90,514.4 M161.75,531.8 L179.15,514.4 M174.00,531.8 L191.40,514.4 M186.25,531.8 L203.65,514.4 M198.50,531.8 L215.90,514.4 M210.75,531.8 L228.15,514.4 M223.00,531.8 L240.40,514.4 M235.25,531.8 L252.65,514.4 M247.50,531.8 L264.90,514.4 M259.75,531.8 L277.15,514.4 M272.00,531.8 L289.40,514.4 M284.25,531.8 L301.65,514.4 M296.50,531.8 L313.90,514.4 M308.75,531.8 L326.15,514.4 M321.00,531.8 L338.40,514.4 M333.25,531.8 L350.65,514.4 M345.50,531.8 L362.90,514.4 M357.75,531.8 L375.15,514.4 M370.00,531.8 L387.40,514.4 M382.25,531.8 L399.65,514.4 M394.50,531.8 L411.90,514.4 M406.75,531.8 L424.15,514.4 M419.00,531.8 L436.40,514.4 M431.25,531.8 L448.65,514.4 M443.50,531.8 L460.90,514.4 M455.75,531.8 L473.15,514.4 M468.00,531.8 L485.40,514.4 M480.25,531.8 L497.65,514.4 M492.50,531.8 L509.90,514.4 M504.75,531.8 L522.15,514.4 " stroke="#444" stroke-width="1.05" clip-path="url(#hp)"/>
<line x1="36.20" y1="531.80" x2="489.10" y2="531.80" stroke="#525252" stroke-width="1.1"/>
<path d="M68.0,531.8 A13.2,3.2 0 0 0 94.4,531.8" stroke="#525252" stroke-width="1.1" fill="#fff"/>
<path d="M77.5,535 V553.3 M85.10000000000001,535 V553.3" stroke="#525252" stroke-width="1.1" fill="none"/>
<path d="M436.5,531.8 A13.2,3.2 0 0 0 462.9,531.8" stroke="#525252" stroke-width="1.1" fill="#fff"/>
<path d="M446.0,535 V553.3 M453.59999999999997,535 V553.3" stroke="#525252" stroke-width="1.1" fill="none"/>
<path d="M81.4,553.3 H478.5 Q480.6,553.3 480.6,555.4 V565.5 Q480.6,567.6 478.5,567.6 H81.4 A7.15,7.15 0 0 1 81.4,553.3 Z M472.6,553.3 V567.6" stroke="#525252" stroke-width="1.1" fill="#fff"/>
<line x1="39.30" y1="488.80" x2="39.30" y2="587.60" stroke="#6a6a6a" stroke-width="0.8"/>
<line x1="36.20" y1="567.40" x2="74.30" y2="567.40" stroke="#4a4a4a" stroke-width="0.9"/>
<path d="M38.85,531.80 L37.10,517.30 L39.30,518.50 L41.50,517.30 L39.75,531.80 Z" fill="#111" stroke="none"/>
<path d="M39.75,567.40 L41.50,581.90 L39.30,580.70 L37.10,581.90 L38.85,567.40 Z" fill="#111" stroke="none"/>
<g transform="matrix(0,-0.9670,0.9833,0,23.50,512.00)" fill="none" stroke="#1c1c1c" stroke-width="1.231" stroke-linecap="round" stroke-linejoin="round"><g transform="matrix(1,0,-0.3,1,3.5999999999999996,0)"><path transform="translate(0.00,0)" d="M5.6,0.5 C5,0.2 4.2,0 3.4,0 C1.4,0 0,1.6 0,4.2 V8.4 C0,10.6 1.2,12 3,12 C4.8,12 6,10.7 6,8.8 C6,6.9 4.9,5.7 3.1,5.7 C1.5,5.7 0.3,6.6 0,8"/><path transform="translate(8.60,0)" d="M3.2,0 C1.3,0 0,1.5 0,3.8 V8.2 C0,10.5 1.2,12 2.9,12 C4.8,12 6,10.5 6,8.2 V3.8 C6,1.5 4.9,0 3.2,0 Z"/></g></g>
<line x1="81.50" y1="496.30" x2="81.50" y2="531.80" stroke="#4a4a4a" stroke-width="0.9"/>
<line x1="449.90" y1="496.30" x2="449.90" y2="531.80" stroke="#4a4a4a" stroke-width="0.9"/>
<line x1="81.50" y1="498.80" x2="449.90" y2="498.80" stroke="#4a4a4a" stroke-width="0.9"/>
<path d="M81.50,498.35 L96.00,496.60 L94.80,498.80 L96.00,501.00 L81.50,499.25 Z" fill="#111" stroke="none"/>
<path d="M449.90,499.25 L435.40,501.00 L436.60,498.80 L435.40,496.60 L449.90,498.35 Z" fill="#111" stroke="none"/>
<line x1="250.30" y1="498.80" x2="281.20" y2="498.80" stroke="#fff" stroke-width="1.6"/>
<line x1="250.30" y1="498.80" x2="281.20" y2="498.80" stroke="#cfcfcf" stroke-width="0.9"/>
<g transform="translate(252.20,482.90) scale(0.9925,0.9333)" fill="none" stroke="#1c1c1c" stroke-width="1.246" stroke-linecap="round" stroke-linejoin="round"><g transform="matrix(1,0,-0.3,1,3.5999999999999996,0)"><path transform="translate(0.00,0)" d="M5.6,0.5 C5,0.2 4.2,0 3.4,0 C1.4,0 0,1.6 0,4.2 V8.4 C0,10.6 1.2,12 3,12 C4.8,12 6,10.7 6,8.8 C6,6.9 4.9,5.7 3.1,5.7 C1.5,5.7 0.3,6.6 0,8"/><path transform="translate(8.60,0)" d="M0.4,0.2 H4 C5.3,0.2 6,1 6,2.2 C6,3.4 5.2,4.6 3.6,5.4 L2.4,5.8 H3.6 C5.1,5.8 6,6.8 6,8.3 V9.3 C6,11 4.9,12 3.3,12 H0"/><path transform="translate(17.20,0)" d="M0,0.1 H6 L1.4,12"/></g></g>
<line x1="74.40" y1="567.60" x2="74.40" y2="599.40" stroke="#4a4a4a" stroke-width="0.9"/>
<line x1="480.60" y1="567.60" x2="480.60" y2="599.40" stroke="#4a4a4a" stroke-width="0.9"/>
<line x1="74.40" y1="596.40" x2="480.60" y2="596.40" stroke="#4a4a4a" stroke-width="0.9"/>
<path d="M74.40,595.95 L88.90,594.20 L87.70,596.40 L88.90,598.60 L74.40,596.85 Z" fill="#111" stroke="none"/>
<path d="M480.60,596.85 L466.10,598.60 L467.30,596.40 L466.10,594.20 L480.60,595.95 Z" fill="#111" stroke="none"/>
<line x1="262.00" y1="596.40" x2="292.90" y2="596.40" stroke="#fff" stroke-width="1.6"/>
<line x1="262.00" y1="596.40" x2="292.90" y2="596.40" stroke="#cfcfcf" stroke-width="0.9"/>
<g transform="translate(266.60,580.60) scale(0.8769,0.9333)" fill="none" stroke="#1c1c1c" stroke-width="1.326" stroke-linecap="round" stroke-linejoin="round"><g transform="matrix(1,0,-0.3,1,3.5999999999999996,0)"><path transform="translate(0.00,0)" d="M0,0.1 H6 L1.4,12"/><path transform="translate(8.60,0)" d="M3.2,0 C1.3,0 0,1.5 0,3.8 V8.2 C0,10.5 1.2,12 2.9,12 C4.8,12 6,10.5 6,8.2 V3.8 C6,1.5 4.9,0 3.2,0 Z"/><path transform="translate(17.20,0)" d="M0.4,0.2 H4 C5.3,0.2 6,1 6,2.2 C6,3.4 5.2,4.6 3.6,5.4 L2.4,5.8 H3.6 C5.1,5.8 6,6.8 6,8.3 V9.3 C6,11 4.9,12 3.3,12 H0"/></g></g>
<path d="M480.6,557.2 H490 M480.6,562.1 H490" stroke="#525252" stroke-width="1.1" fill="none"/>
<rect x="519.6" y="550.2" width="5" height="15.1" fill="#858585"/>
<path d="M494.00,549.8 A4.6,7.9 0 0 0 494.00,565.7 M498.90,549.8 A4.6,7.9 0 0 0 498.90,565.7 M503.80,549.8 A4.6,7.9 0 0 0 503.80,565.7 M506.90,549.8 A4.0,7.9 0 0 0 506.90,565.7 M510.30,549.8 A4.0,7.9 0 0 0 510.30,565.7 M513.70,549.8 A4.0,7.9 0 0 0 513.70,565.7 M516.40,549.8 A4.0,7.9 0 0 0 516.40,565.7 M518.80,549.8 A4.0,7.9 0 0 0 518.80,565.7 M521.00,549.8 A4.0,7.9 0 0 0 521.00,565.7 M522.90,549.8 A4.0,7.9 0 0 0 522.90,565.7 M524.40,549.8 A4.0,7.9 0 0 0 524.40,565.7 M525.80,549.8 A4.0,7.9 0 0 0 525.80,565.7 M527.00,549.8 A4.0,7.9 0 0 0 527.00,565.7 " stroke="#525252" stroke-width="1.1" fill="none"/>
<path d="M493.5,549.8 H524.5 M493.5,565.7 H524.5" stroke="#525252" stroke-width="1.3" fill="none"/>
<path d="M529.8,550.6 A5.6,7.2 0 0 0 529.8,565 Z" fill="#fff" stroke="#525252" stroke-width="1.1"/>
<path d="M529.4,553.7 H527.6 Q526.6,553.7 526.6,555 V560.8 Q526.6,562.1 527.6,562.1 H529.4" fill="none" stroke="#525252" stroke-width="0.9"/>
<path d="M533,546 H539.5 Q541.9,546 541.9,548.4 V567 Q541.9,569.4 539.5,569.4 H533 Q530.4,569.4 530,566.8 Q529.3,557.7 530,548.6 Q530.4,546 533,546 Z" fill="#fff" stroke="#525252" stroke-width="1.1"/>
<rect x="541.9" y="556.2" width="9.7" height="3.1" fill="#b8b8b8"/>
<path d="M541.9,547.4 H551.6 V568.5 H541.9 M541.9,556.2 H551.6 M541.9,559.3 H551.6" fill="none" stroke="#525252" stroke-width="1.1"/>
<path d="M541.9,548.0 H551.6 M541.9,567.9 H551.6" fill="none" stroke="#525252" stroke-width="1.6"/>
<path d="M551.6,550.5 H561.2 Q562.7,550.5 562.7,552.2 Q562.7,553.9000000000001 561.2,553.9000000000001 H551.6" fill="none" stroke="#525252" stroke-width="1.1"/>
<path d="M551.6,562.0 H561.2 Q562.7,562.0 562.7,563.7 Q562.7,565.4000000000001 561.2,565.4000000000001 H551.6" fill="none" stroke="#525252" stroke-width="1.1"/>
</svg>
</body></html>
